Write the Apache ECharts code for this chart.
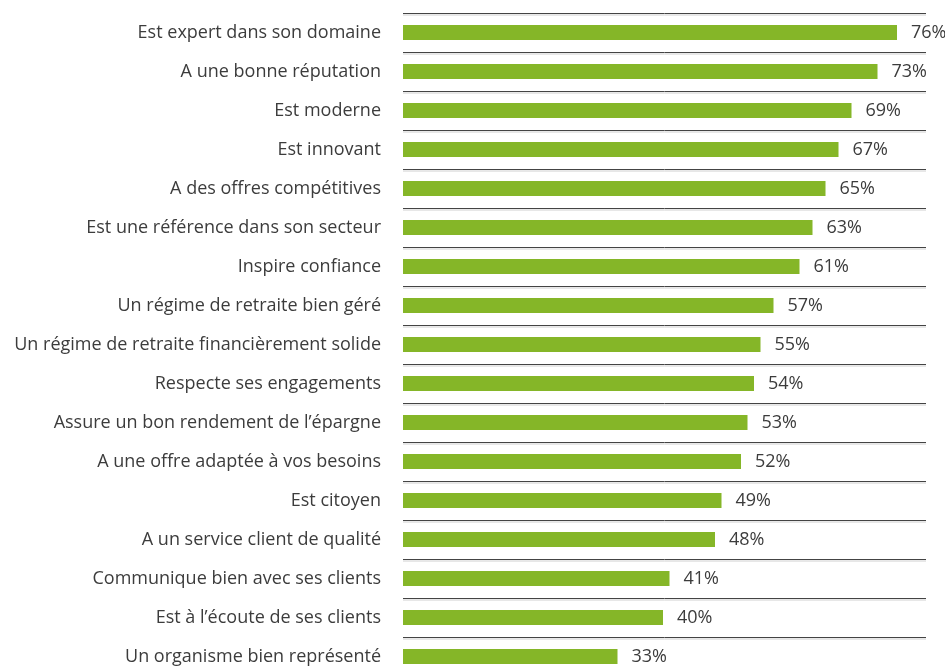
<!DOCTYPE html>
<html>
<head>
<meta charset="utf-8">
<script src="https://cdn.jsdelivr.net/npm/echarts@6/dist/echarts.min.js"></script>
<style>
  html, body { margin: 0; padding: 0; background: #fff; overflow: hidden; }
  /* un peu plus haut que la fenêtre : la dernière ligne est coupée comme sur l'original */
  #chart { width: 945px; height: 676px; }
</style>
</head>
<body>
<div id="chart"></div>
<script>
// libellés et pourcentages
const categories = [
  'Est expert dans son domaine',
  'A une bonne réputation',
  'Est moderne',
  'Est innovant',
  'A des offres compétitives',
  'Est une référence dans son secteur',
  'Inspire confiance',
  'Un régime de retraite bien géré',
  'Un régime de retraite financièrement solide',
  'Respecte ses engagements',
  'Assure un bon rendement de l\u2019épargne',
  'A une offre adaptée à vos besoins',
  'Est citoyen',
  'A un service client de qualité',
  'Communique bien avec ses clients',
  'Est à l\u2019écoute de ses clients',
  'Un organisme bien représenté'
]
const values = [76, 73, 69, 67, 65, 63, 61, 57, 55, 54, 53, 52, 49, 48, 41, 40, 33]

const chart = echarts.init(document.getElementById('chart'))
chart.setOption({
  animation: false,
  grid: { left: 403, right: 19, top: 13, bottom: 0, containLabel: false },
  xAxis: {
    type: 'value',
    min: 0,
    max: 80.46,
    show: false
  },
  yAxis: {
    type: 'category',
    inverse: true,
    data: categories,
    axisLine: { show: false },
    axisTick: { show: false },
    splitLine: {
      show: true,
      interval: 0,
      lineStyle: { color: '#444', width: 1, shadowColor: '#d0d0d0', shadowOffsetY: 1.5, shadowBlur: 0 }
    },
    axisLabel: {
      margin: 22,
      interval: 0,
      color: '#3c3c3c',
      fontSize: 18,
      fontFamily: 'Open Sans'
    }
  },
  series: [{
    type: 'bar',
    data: values,
    barWidth: 15,
    itemStyle: { color: '#85b628' },
    label: {
      show: true,
      position: 'right',
      distance: 14,
      formatter: '{c}%',
      color: '#3c3c3c',
      fontSize: 18,
      fontFamily: 'Open Sans'
    }
  }]
})
</script>
</body>
</html>
